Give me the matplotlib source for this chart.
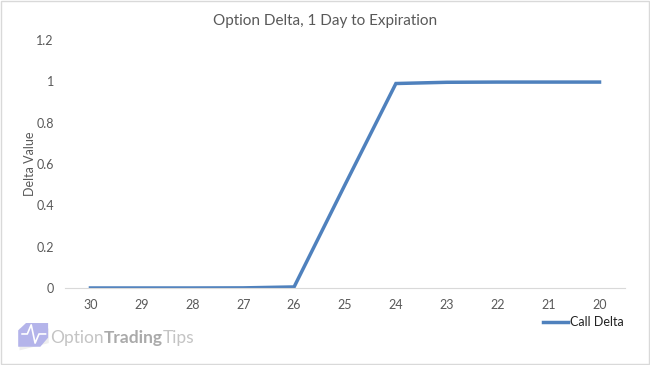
import matplotlib
matplotlib.use("Agg")
from matplotlib import pyplot as plt
from matplotlib.patches import Rectangle, Polygon

strikes = ["30", "29", "28", "27", "26", "25", "24", "23", "22", "21", "20"]
call_delta = [0.0, 0.0, 0.0, 0.0005, 0.005, 0.50, 0.99, 0.996, 0.997, 0.997, 0.997]
y_ticks = [0, 0.2, 0.4, 0.6, 0.8, 1, 1.2]

plt.rcParams['font.family'] = ['Lato', 'DejaVu Sans']
grey = "#595959"

fig = plt.figure(figsize=(6.5, 3.65), dpi=100)
ax = fig.add_axes([0.1, 0.211, 0.8615, 0.679])

x = list(range(len(strikes)))
ax.plot(x, call_delta, color="#4f81bd", lw=2.5, solid_joinstyle="miter", label="Call Delta")

ax.set_xlim(-0.5, len(strikes) - 0.5)
ax.set_ylim(0, 1.2)
ax.set_xticks(x)
ax.set_xticklabels(strikes)
ax.set_yticks(y_ticks)
ax.set_yticklabels(["0", "0.2", "0.4", "0.6", "0.8", "1", "1.2"])
ax.tick_params(length=0, colors=grey, labelsize=9, pad=8)
for s in ["top", "right", "left"]:
    ax.spines[s].set_visible(False)
ax.spines["bottom"].set_color("#d9d9d9")
ax.set_axisbelow(True)

ax.set_ylabel("Delta Value", color=grey, fontsize=9, labelpad=0)
fig.text(0.5, 0.942, "Option Delta, 1 Day to Expiration", ha="center", va="center",
         color=grey, fontsize=11)

leg = fig.legend(loc="center left", bbox_to_anchor=(0.818, 0.118), frameon=False,
                 fontsize=9, handlelength=2.0, handletextpad=0.2)
for t in leg.get_texts():
    t.set_color("#222222")

# watermark logo
fig.patches.append(Polygon([(0.03, 0.04), (0.075, 0.06), (0.075, 0.1), (0.03, 0.1)], closed=True,
                           transform=fig.transFigure, fc="#eeeeee", ec="none", zorder=0))
fig.patches.append(Polygon([(0.028, 0.05), (0.062, 0.05), (0.074, 0.075), (0.074, 0.115),
                            (0.04, 0.115), (0.028, 0.095)], closed=True,
                           transform=fig.transFigure, fc="#b4b4ea", ec="none"))
fig.lines.append(plt.Line2D([0.034, 0.042, 0.048, 0.054, 0.06, 0.07],
                            [0.085, 0.085, 0.11, 0.06, 0.085, 0.085],
                            transform=fig.transFigure, color="white", lw=1.2))

renderer = fig.canvas.get_renderer()
xpos = 0.077
for word, col, wt in [("Option", "#c4c4c4", "normal"), ("Trading", "#aaaaaa", "bold"),
                      ("Tips", "#c4c4c4", "normal")]:
    t = fig.text(xpos, 0.075, word, color=col, fontsize=12.5, va="center", ha="left",
                 fontweight=wt)
    bb = t.get_window_extent(renderer=renderer)
    xpos += bb.width / fig.bbox.width

# outer frame
fig.patches.append(Rectangle((0.002, 0.003), 0.996, 0.994, transform=fig.transFigure,
                             fill=False, ec="#d9d9d9", lw=1))

fig.savefig("out.png", dpi=100)
